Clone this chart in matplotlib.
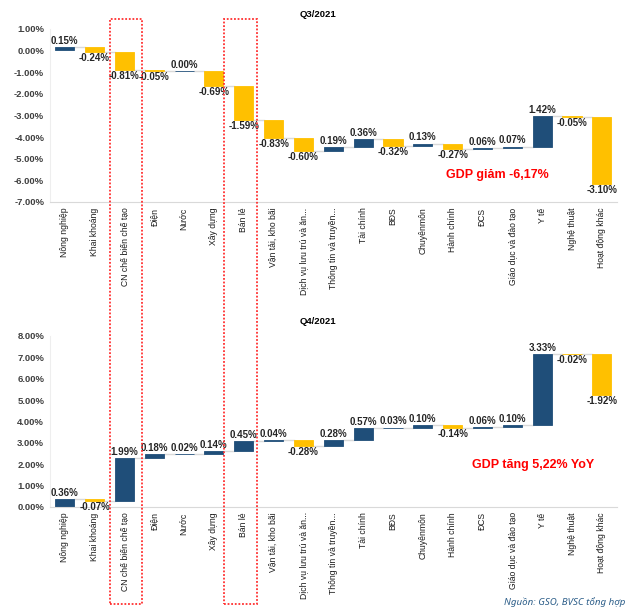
import matplotlib.pyplot as plt
from matplotlib.patches import Rectangle
import numpy as np

plt.rcParams['font.family'] = ['Liberation Sans', 'DejaVu Sans']

sectors = ['Nông nghiệp', 'Khai khoáng', 'CN chế biến chế tạo', 'Điện', 'Nước',
           'Xây dựng', 'Bán lẻ', 'Vận tải, kho bãi', 'Dịch vụ lưu trú và ăn...',
           'Thông tin và truyền...', 'Tài chính', 'BĐS', 'Chuyênmôn', 'Hành chính',
           'ĐCS', 'Giáo dục và đào tạo', 'Y tế', 'Nghệ thuật', 'Hoạt động khác']
q3 = [0.15, -0.24, -0.81, -0.05, 0.00, -0.69, -1.59, -0.83, -0.60, 0.19, 0.36,
      -0.32, 0.13, -0.27, 0.06, 0.07, 1.42, -0.05, -3.10]
q4 = [0.36, -0.07, 1.99, 0.18, 0.02, 0.14, 0.45, 0.04, -0.28, 0.28, 0.57,
      0.03, 0.10, -0.14, 0.06, 0.10, 3.33, -0.02, -1.92]

navy = '#1F4E79'
yellow = '#FFC000'


def waterfall(ax, vals, ylim, yticks, note, note_xy):
    vals = np.array(vals)
    ends = np.cumsum(vals)
    starts = ends - vals
    x = np.arange(len(vals))
    colors = [navy if v >= 0 else yellow for v in vals]
    ax.bar(x, vals, bottom=starts, width=0.64, color=colors, edgecolor=colors, linewidth=0.6)
    # connector lines between bars
    for i in range(len(vals) - 1):
        ax.plot([i + 0.32, i + 0.68], [ends[i], ends[i]], color='#D9D9D9', lw=1, zorder=0)
    for i, v in enumerate(vals):
        if v >= 0:
            ax.text(i, ends[i] + 0.05, f'{v:.2f}%', ha='center', va='bottom',
                    fontsize=7, fontweight='bold', color='#262626')
        else:
            ax.text(i, ends[i] - 0.05, f'{v:.2f}%', ha='center', va='top',
                    fontsize=7, fontweight='bold', color='#262626')
    ax.set_xlim(-0.5, len(vals) - 0.5)
    ax.set_ylim(*ylim)
    ax.set_yticks(yticks)
    ax.set_yticklabels([f'{t:.2f}%' for t in yticks], fontsize=6.8, fontweight='bold', color='#404040')
    ax.set_xticks(x)
    ax.set_xticklabels(sectors, rotation=90, fontsize=6.2, color='#1A1A1A')
    ax.tick_params(length=0, pad=4)
    for s in ['top', 'right']:
        ax.spines[s].set_visible(False)
    ax.spines['left'].set_color('#EEEEEE')
    ax.spines['bottom'].set_color('#D9D9D9')
    ax.text(note_xy[0], note_xy[1], note, ha='center', va='center', color='#FF0000',
            fontsize=9, fontweight='bold')


fig = plt.figure(figsize=(6.3, 6.12), dpi=100)
ax1 = fig.add_axes([0.079, 0.670, 0.900, 0.283])
ax2 = fig.add_axes([0.079, 0.172, 0.900, 0.279])

waterfall(ax1, q3, (-7, 1), np.arange(1, -8, -1), 'GDP giảm -6,17%', (14.5, -5.75))
waterfall(ax2, q4, (0, 8), np.arange(8, -1, -1), 'GDP tăng 5,22% YoY', (15.7, 1.95))

fig.text(0.505, 0.977, 'Q3/2021', ha='center', va='center', fontsize=6.8, fontweight='bold')
fig.text(0.505, 0.474, 'Q4/2021', ha='center', va='center', fontsize=6.8, fontweight='bold')

# red dotted boxes around the highlighted sectors
for x0, x1 in [(110, 142), (224, 257)]:
    fig.add_artist(Rectangle((x0 / 630, 1 - 604 / 612), (x1 - x0) / 630, 585 / 612,
                             transform=fig.transFigure, fill=False, edgecolor='#FF3030',
                             linestyle=(0, (1, 1)), linewidth=1.3))

fig.text(0.992, 0.016, 'Nguồn: GSO, BVSC tổng hợp', ha='right', va='center', fontsize=7,
         style='italic', color='#2E5F8A', family=['Noto Sans', 'DejaVu Sans'])

fig.savefig('out.png', dpi=100)
